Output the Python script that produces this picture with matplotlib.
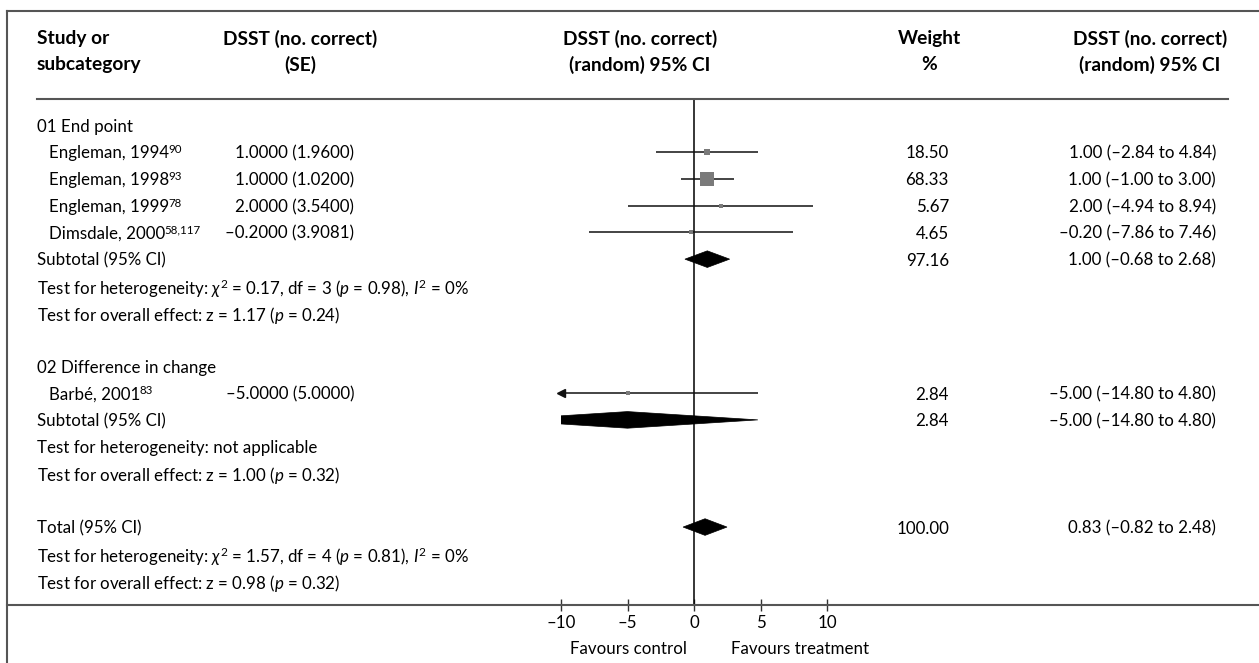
import matplotlib
matplotlib.use("Agg")
import matplotlib.pyplot as plt
from matplotlib import transforms
from matplotlib.lines import Line2D
from matplotlib.patches import Polygon

plt.rcParams['font.family'] = ['Lato', 'DejaVu Sans']
plt.rcParams['mathtext.fontset'] = 'custom'
plt.rcParams['mathtext.rm'] = 'Lato'
plt.rcParams['mathtext.it'] = 'Lato:italic'
plt.rcParams['mathtext.bf'] = 'Lato:bold'
plt.rcParams['mathtext.fallback'] = 'stixsans'
plt.rcParams['font.size'] = 12.2

# ---- data ----
study_names = ["Engleman, 1994", "Engleman, 1998", "Engleman, 1999", "Dimsdale, 2000", "Barbé, 2001"]
study_refs = ["90", "93", "78", "58,117", "83"]
study_est = [1.0, 1.0, 2.0, -0.2, -5.0]
study_se = [1.96, 1.02, 3.54, 3.9081, 5.0]
study_lo = [-2.84, -1.00, -4.94, -7.86, -14.80]
study_hi = [4.84, 3.00, 8.94, 7.46, 4.80]
study_weight = [18.50, 68.33, 5.67, 4.65, 2.84]

pooled_names = ["Subtotal (95% CI)", "Subtotal (95% CI)", "Total (95% CI)"]
pooled_est = [1.00, -5.00, 0.83]
pooled_lo = [-0.68, -14.80, -0.82]
pooled_hi = [2.68, 4.80, 2.48]
pooled_weight = [97.16, 2.84, 100.00]

group_names = ["01 End point", "02 Difference in change"]
het_text = ["Test for heterogeneity: $\\chi^2$ = 0.17, df = 3 ($p$ = 0.98), $I^2$ = 0%",
            "Test for heterogeneity: not applicable",
            "Test for heterogeneity: $\\chi^2$ = 1.57, df = 4 ($p$ = 0.81), $I^2$ = 0%"]
effect_text = ["Test for overall effect: z = 1.17 ($p$ = 0.24)",
               "Test for overall effect: z = 1.00 ($p$ = 0.32)",
               "Test for overall effect: z = 0.98 ($p$ = 0.32)"]

xticks = [-10, -5, 0, 5, 10]
xtick_labels = ["–10", "–5", "0", "5", "10"]

# row index of each item in the table
study_rows = [1, 2, 3, 4, 10]
pooled_rows = [5, 11, 15]
group_rows = [0, 9]
het_rows = [6, 12, 16]
effect_rows = [7, 13, 17]

W, H = 1259, 663
row0, step = 125.2, 26.79


def fx(px):
    return px / W


def fy(py):
    return 1 - py / H


def num(v, d):
    return f"{v:.{d}f}".replace("-", "–")


fig = plt.figure(figsize=(W / 100, H / 100), dpi=100)

ax = fig.add_axes([fx(561), fy(605), fx(827) - fx(561), fy(99) - fy(605)])
ax.set_xlim(-10, 10)
ax.set_ylim((605 - row0) / step, (99 - row0) / step)
for s in ax.spines.values():
    s.set_visible(False)
ax.set_yticks([])
ax.set_xticks(xticks)
ax.set_xticklabels(xtick_labels)
ax.tick_params(axis='x', direction='inout', length=8, width=1.0, color='#333333', pad=3,
               labelsize=12.2)
ax.axvline(0, color='black', lw=1.1)

# individual studies
for r, est, lo, hi, w in zip(study_rows, study_est, study_lo, study_hi, study_weight):
    ax.plot([lo, hi], [r, r], color='#111111', lw=1.1, solid_capstyle='butt')
    if lo < -10:
        ax.plot([-10], [r], marker='<', color='#111111', ms=5.5, clip_on=False)
    side = max(5.0, 1.6 * w ** 0.5)
    ax.plot([est], [r], marker='s', ms=side * 0.72, color='#7a7a7a', mec='#7a7a7a', mew=0)

# pooled estimates as diamonds
for r, est, lo, hi in zip(pooled_rows, pooled_est, pooled_lo, pooled_hi):
    d = Polygon([[lo, r], [est, r - 0.31], [hi, r], [est, r + 0.31]], closed=True,
                facecolor='black', edgecolor='black', lw=0.5)
    ax.add_patch(d)

# ---- table text ----
tr = transforms.blended_transform_factory(fig.transFigure, ax.transData)
cb = dict(transform=tr, va='center_baseline')

for r, g in zip(group_rows, group_names):
    fig.text(fx(37), r, g, **cb)
for r, name, ref, est, se, lo, hi, w in zip(study_rows, study_names, study_refs, study_est,
                                            study_se, study_lo, study_hi, study_weight):
    t = fig.text(fx(49), r, name, **cb)
    # small reference number tucked against the study name
    ax.annotate(ref, xy=(1, 1), xycoords=t, xytext=(-0.6, 0.8), textcoords='offset points',
                va='top', ha='left', fontsize=8.3, annotation_clip=False)
    fig.text(fx(354), r, f"{num(est, 4)} ({se:.4f})", ha='right', **cb)
    fig.text(fx(949), r, f"{w:.2f}", ha='right', **cb)
    fig.text(fx(1216), r, f"{num(est, 2)} ({num(lo, 2)} to {num(hi, 2)})", ha='right', **cb)
for r, name, est, lo, hi, w in zip(pooled_rows, pooled_names, pooled_est, pooled_lo,
                                   pooled_hi, pooled_weight):
    fig.text(fx(37), r, name, **cb)
    fig.text(fx(949), r, f"{w:.2f}", ha='right', **cb)
    fig.text(fx(1216), r, f"{num(est, 2)} ({num(lo, 2)} to {num(hi, 2)})", ha='right', **cb)
for r, t in zip(het_rows, het_text):
    fig.text(fx(37), r, t, **cb)
for r, t in zip(effect_rows, effect_text):
    fig.text(fx(37), r, t, **cb)

# column headers
hdr = dict(fontweight='bold', va='center_baseline', fontsize=13.8)
fig.text(fx(37), fy(37), "Study or", **hdr)
fig.text(fx(37), fy(63), "subcategory", **hdr)
for cx, l1, l2 in [(300, "DSST (no. correct)", "(SE)"),
                   (640, "DSST (no. correct)", "(random) 95% CI"),
                   (929, "Weight", "%"),
                   (1150, "DSST (no. correct)", "(random) 95% CI")]:
    fig.text(fx(cx), fy(37), l1, ha='center', **hdr)
    fig.text(fx(cx), fy(63), l2, ha='center', **hdr)

fig.text(fx(628), fy(647), "Favours control", ha='center', va='center_baseline')
fig.text(fx(800), fy(647), "Favours treatment", ha='center', va='center_baseline')

# frame and rules
lc = '#555555'
fig.add_artist(Line2D([fx(7), 1], [fy(11), fy(11)], color=lc, lw=1.5))
fig.add_artist(Line2D([fx(7), fx(7)], [fy(11), 0], color=lc, lw=1.5))
fig.add_artist(Line2D([fx(37), fx(1228)], [fy(99), fy(99)], color=lc, lw=1.5))
fig.add_artist(Line2D([fx(7), 1], [fy(605), fy(605)], color=lc, lw=1.5))

fig.savefig("out.png", dpi=100)
